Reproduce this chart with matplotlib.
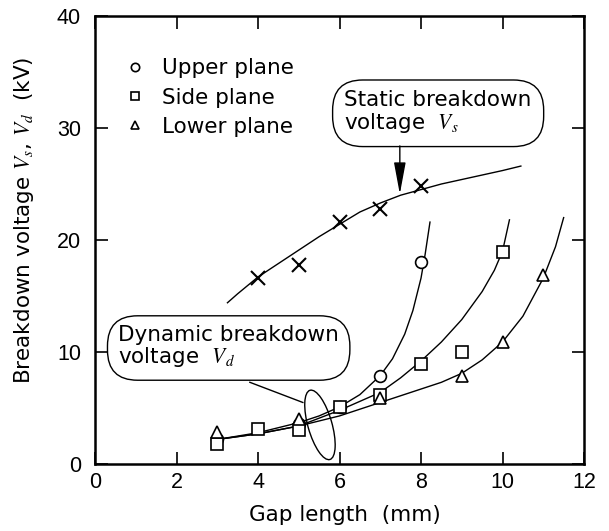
import numpy as np
import matplotlib
matplotlib.use("Agg")
import matplotlib.pyplot as plt
import matplotlib.transforms as mtransforms
from matplotlib.patches import Ellipse

plt.rcParams['font.family'] = ['DejaVu Sans']
plt.rcParams['mathtext.fontset'] = 'stix'

# measured points
static_x = [4, 5, 6, 7, 8]
static_y = [16.6, 17.8, 21.6, 22.8, 24.8]
upper_x = [3, 5, 6, 7, 8]
upper_y = [2.2, 3.6, 5.1, 7.9, 18.0]
side_x = [3, 4, 5, 6, 7, 8, 9, 10]
side_y = [1.8, 3.1, 3.0, 5.1, 6.2, 8.9, 10.0, 18.9]
lower_x = [3, 5, 7, 9, 10, 11]
lower_y = [2.9, 4.0, 5.9, 7.9, 10.9, 16.9]

# fitted curves
static_cx = [3.25, 3.5, 4.0, 4.5, 5.0, 5.5, 6.0, 6.5, 7.0, 7.5, 8.0, 8.5, 9.0, 9.5, 10.0, 10.45]
static_cy = [14.4, 15.2, 16.7, 17.9, 19.1, 20.3, 21.4, 22.5, 23.3, 24.0, 24.5, 25.0, 25.4, 25.8, 26.2, 26.6]
upper_cx = [3.0, 4.0, 5.0, 5.5, 6.0, 6.5, 7.0, 7.3, 7.6, 7.8, 8.0, 8.1, 8.22]
upper_cy = [2.2, 2.8, 3.7, 4.3, 5.1, 6.2, 7.9, 9.4, 11.6, 13.7, 16.6, 18.7, 21.6]
side_cx = [3.0, 4.0, 5.0, 6.0, 6.5, 7.0, 7.5, 8.0, 8.5, 9.0, 9.5, 9.8, 10.0, 10.17]
side_cy = [2.2, 2.7, 3.4, 4.8, 5.6, 6.4, 7.7, 9.2, 10.9, 12.9, 15.4, 17.3, 19.0, 21.8]
lower_cx = [3.0, 4.0, 5.0, 6.0, 7.0, 8.0, 8.5, 9.0, 9.5, 10.0, 10.5, 11.0, 11.3, 11.5]
lower_cy = [2.2, 2.7, 3.4, 4.3, 5.5, 6.7, 7.3, 8.1, 9.3, 10.9, 13.2, 16.6, 19.4, 22.0]

fig = plt.figure(figsize=(6.09, 5.31), dpi=100)
ax = fig.add_axes([0.156, 0.126, 0.803, 0.844])

lw = 1.0
for cx, cy in [(static_cx, static_cy), (upper_cx, upper_cy), (side_cx, side_cy), (lower_cx, lower_cy)]:
    ax.plot(cx, cy, color='black', lw=lw, zorder=2)

ax.plot(static_x, static_y, 'x', color='black', ms=9.5, mew=1.5, zorder=3)
ax.plot(upper_x, upper_y, 'o', mfc='white', mec='black', ms=8.5, mew=1.2, zorder=3, label='Upper plane')
ax.plot(side_x, side_y, 's', mfc='white', mec='black', ms=8.5, mew=1.2, zorder=3, label='Side plane')
ax.plot(lower_x, lower_y, '^', mfc='white', mec='black', ms=8.5, mew=1.2, zorder=3, label='Lower plane')

leg = ax.legend(loc='upper left', bbox_to_anchor=(0.064, 0.906), frameon=False, fontsize=15.5,
                handlelength=0.8, handletextpad=0.86, labelspacing=0.44, borderaxespad=0,
                borderpad=0)
for h in leg.legend_handles:
    h.set_markersize(6)

ax.text(8.42, 31.4, 'Static breakdown\nvoltage  $V_s$', fontsize=15.5, ha='center', va='center',
        multialignment='left', linespacing=1.05,
        bbox=dict(boxstyle='round,pad=0.55,rounding_size=1.4', fc='white', ec='black', lw=1.0))
ax.annotate('', xy=(7.48, 24.1), xytext=(7.48, 28.4),
            arrowprops=dict(arrowstyle='-|>,head_length=1.4,head_width=0.26', color='black',
                            lw=1.0, mutation_scale=14, shrinkA=0, shrinkB=0))

ax.text(3.28, 10.45, 'Dynamic breakdown\nvoltage  $V_d$', fontsize=15.5, ha='center', va='center',
        multialignment='left', linespacing=1.05,
        bbox=dict(boxstyle='round,pad=0.5,rounding_size=1.4', fc='white', ec='black', lw=1.0))
ax.plot([3.8, 5.1], [7.3, 5.5], color='black', lw=1.0)

trans = fig.dpi_scale_trans + mtransforms.ScaledTranslation(5.52, 3.5, ax.transData)
ax.add_patch(Ellipse((0, 0), 0.24, 0.72, angle=16, fill=False, ec='black', lw=1.0,
                     transform=trans))

ax.set_xlim(0, 12)
ax.set_ylim(0, 40)
ax.set_xticks(np.arange(0, 13, 2))
ax.set_yticks(np.arange(0, 41, 10))
ax.tick_params(direction='in', length=9, width=1.2, top=True, right=True)
ax.tick_params(axis='x', pad=6)
ax.tick_params(axis='y', pad=10)
for lab in ax.get_xticklabels() + ax.get_yticklabels():
    lab.set_fontfamily('Liberation Sans')
    lab.set_fontsize(15.5)
for s in ax.spines.values():
    s.set_linewidth(1.8)

ax.set_xlabel('Gap length  (mm)', fontsize=15.5)
ax.set_ylabel('Breakdown voltage $V_s$, $V_d$  (kV)', fontsize=15.5)
ax.xaxis.set_label_coords(0.511, -0.0915)
ax.yaxis.set_label_coords(-0.121, 0.545)

fig.savefig('out.png', dpi=100)
